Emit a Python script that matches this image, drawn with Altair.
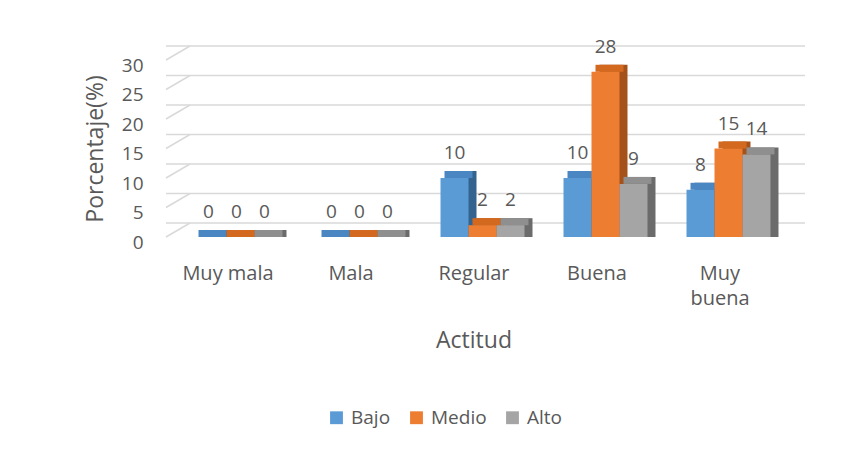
import json
import altair as alt
import pandas as pd

categories = ["Muy mala", "Mala", "Regular", "Buena", "Muy buena"]
series = ["Bajo", "Medio", "Alto"]
bajo = [0, 0, 10, 10, 8]
medio = [0, 0, 2, 28, 15]
alto = [0, 0, 2, 9, 14]
y_ticks = [0, 5, 10, 15, 20, 25, 30]

front_colors = ["#5B9BD5", "#ED7D31", "#A5A5A5"]
top_colors = ["#4A86C2", "#D2691F", "#8F8F8F"]
side_colors = ["#35638F", "#A5521A", "#6B6B6B"]

BAR_W = 0.2276          # width of one bar in category units
GROUP_W = BAR_W * len(series)

rows = []
for si, (s, vals) in enumerate(zip(series, [bajo, medio, alto])):
    for ci, (c, v) in enumerate(zip(categories, vals)):
        left = ci - GROUP_W / 2 + si * BAR_W
        rows.append({"categoria": c, "serie": s, "valor": v,
                     "x0": left, "x1": left + BAR_W, "xc": left + BAR_W / 2})
df = pd.DataFrame(rows)
grid_df = pd.DataFrame({"v": y_ticks})

TXT = "#595959"
FONT = "Open Sans"
FS = 19

label_list = [c.split(" ") if c == "Muy buena" else c for c in categories]
label_expr = json.dumps(label_list, ensure_ascii=False) + "[datum.value]"

yscale = alt.Scale(domain=[0, 30], nice=False)
xscale = alt.Scale(domain=[-0.5, len(categories) - 0.5], nice=False, zero=False)

y_axis = alt.Axis(title="Porcentaje(%)", values=y_ticks, grid=False, domain=False,
                  ticks=False, labelPadding=23, labelOffset=5, titlePadding=14,
                  labelFontSize=19, titleFontSize=23)
x_axis = alt.Axis(title="Actitud", values=list(range(len(categories))), grid=False,
                  domain=False, ticks=False, labelPadding=26, labelLineHeight=25,
                  labelExpr=label_expr, titlePadding=21,
                  labelFontSize=20, titleFontSize=23)

grid = alt.Chart(grid_df).mark_rule(
    color="#D9D9D9", strokeWidth=1.5, xOffset=24, x2Offset=24, yOffset=-14
).encode(y=alt.Y("v:Q", scale=yscale, axis=y_axis))

diag = alt.Chart(grid_df).mark_rule(
    color="#D9D9D9", strokeWidth=1.5, x2Offset=24, y2Offset=-14
).encode(
    x=alt.value(0), x2=alt.value(0),
    y=alt.Y("v:Q", scale=yscale, axis=y_axis), y2=alt.Y2("v:Q")
)


def bars(color_range, legend, xo, yo, y2_same):
    y2 = alt.Y2("valor:Q") if y2_same else alt.datum(0)
    return alt.Chart(df).mark_rect(xOffset=xo, x2Offset=xo, yOffset=yo).encode(
        x=alt.X("x0:Q", scale=xscale, axis=x_axis),
        x2=alt.X2("x1:Q"),
        y=alt.Y("valor:Q", scale=yscale, axis=y_axis),
        y2=y2,
        color=alt.Color("serie:N", scale=alt.Scale(domain=series, range=color_range),
                        legend=legend),
    )


side = bars(side_colors, None, 17, -7, False)
top = bars(top_colors, None, 13, -7, True)
front = bars(front_colors,
             alt.Legend(title=None, orient="none", direction="horizontal",
                        legendX=161, legendY=348, symbolType="square",
                        symbolSize=165, symbolStrokeWidth=0,
                        labelFontSize=19, labelColor=TXT, labelFont=FONT,
                        labelOffset=5, columnPadding=16),
             9, 0, False)

labels = alt.Chart(df).mark_text(
    dx=9, dy=-25, fontSize=FS, color=TXT, font=FONT, baseline="middle"
).encode(
    x=alt.X("xc:Q", scale=xscale, axis=x_axis),
    y=alt.Y("valor:Q", scale=yscale, axis=y_axis),
    text=alt.Text("valor:Q"),
)

chart = alt.layer(grid, diag, side, top, front, labels).resolve_scale(
    color="independent"
).properties(
    width=615, height=177,
    autosize=alt.AutoSizeParams(type="none"),
    padding={"left": 158, "top": 52, "right": 70, "bottom": 200},
).configure_view(stroke=None).configure_axis(
    labelFont=FONT, titleFont=FONT,
    labelColor=TXT, titleColor=TXT, titleFontWeight="normal"
)

chart.save("out.html", embed_options={"renderer": "svg", "actions": False})
